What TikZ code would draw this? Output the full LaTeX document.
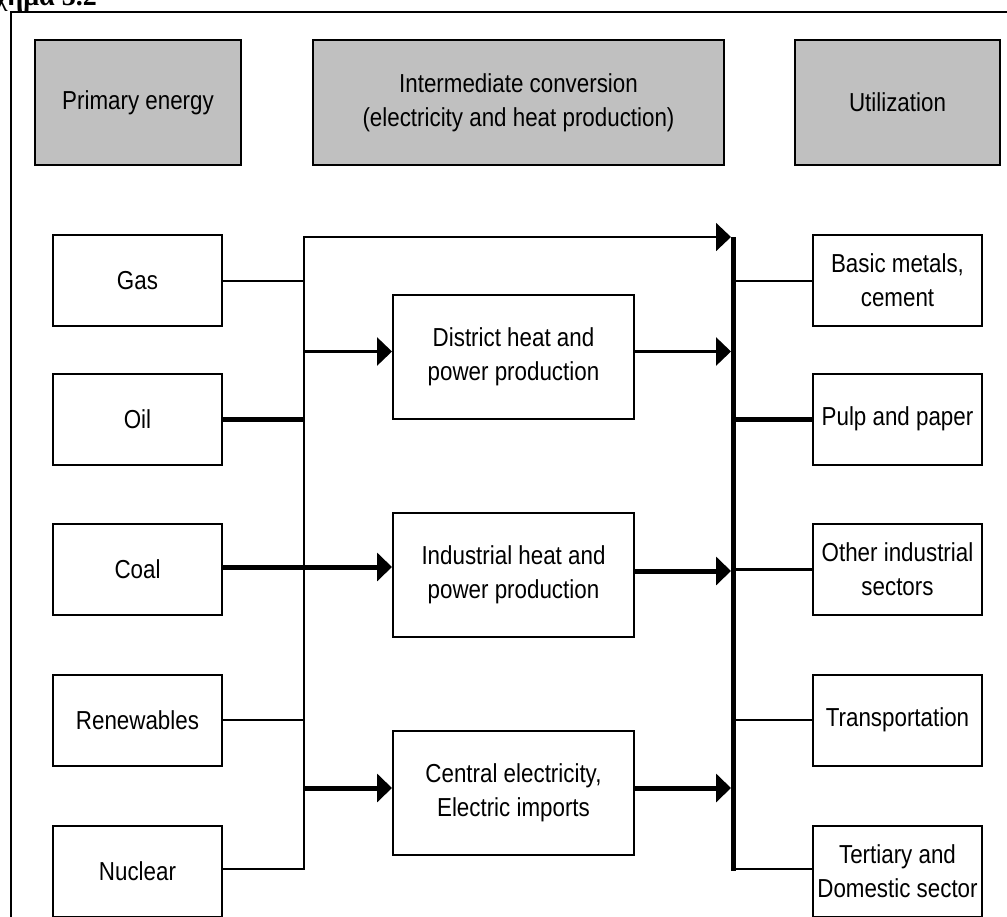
\documentclass[tikz,border=0pt]{standalone}
\usepackage{fontspec}
\setmainfont{Liberation Sans}[FakeStretch=0.86]
\newfontfamily\captionfont{Liberation Serif}
\usetikzlibrary{arrows.meta}
\definecolor{headgray}{RGB}{192,192,192}

\begin{document}
\begin{tikzpicture}[x=1pt,y=-1pt,
  txt/.style={font=\fontsize{26}{34}\selectfont, align=center, inner sep=0pt},
  head/.style={txt, draw=black, fill=headgray, line width=2.5pt, minimum height=125pt},
  leaf/.style={txt, draw=black, fill=white, line width=2pt, minimum width=169pt, minimum height=91pt},
  conv/.style={txt, draw=black, fill=white, line width=2pt, minimum width=241pt, minimum height=124pt},
  flowthin/.style={line width=2pt},
  flowmid/.style={line width=3pt},
  flowthick/.style={line width=5pt},
  tip/.style={-{Triangle[length=15pt,width=28pt]}}
]
\useasboundingbox (0,0) rectangle (1007,916);
\fill[white] (0,0) rectangle (1007,916);

% caption above the frame
\node[anchor=base east, inner sep=0pt, font=\captionfont\bfseries\fontsize{28}{30}\selectfont] (cap) at (97,5) {Σχήμα 3.2};

% outer frame
\draw[line width=2pt] (11,12) rectangle (1040,950);

% column headings
\node[head, minimum width=206pt] (hprim) at (138,102.5) {Primary energy};
\node[head, minimum width=411pt] (hconv) at (518.5,102.5) {Intermediate conversion\\(electricity and heat production)};
\node[head, minimum width=205pt] (hutil) at (897.5,102.5) {Utilization};

% primary energy sources
\node[leaf] (gas) at (137.5,280.5) {Gas};
\node[leaf] (oil) at (137.5,419) {Oil};
\node[leaf] (coal) at (137.5,569) {Coal};
\node[leaf] (ren) at (137.5,720) {Renewables};
\node[leaf] (nuc) at (137.5,871) {Nuclear};

% conversion plants
\node[conv] (dh) at (513.5,356.5) {District heat and\\power production};
\node[conv] (ih) at (513.5,575) {Industrial heat and\\power production};
\node[conv] (ce) at (513.5,793) {Central electricity,\\Electric imports};

% end uses
\node[leaf] (bm) at (897.5,280.5) {Basic metals,\\cement};
\node[leaf] (pp) at (897.5,419) {Pulp and paper};
\node[leaf] (oi) at (897.5,569) {Other industrial\\sectors};
\node[leaf] (tr) at (897.5,720) {Transportation};
\node[leaf] (ts) at (897.5,871) {Tertiary and\\Domestic sector};

% collector lines
\coordinate (lbt) at (304,237);
\coordinate (lbb) at (304,869);
\coordinate (rbt) at (733,237);
\coordinate (rbb) at (733,871);

\draw[flowthin, line cap=rect] (lbt) -- (lbb);
\draw[flowthick] (rbt) -- (rbb);
\draw[flowthin, tip] (lbt) -- ([xshift=-2pt]rbt);

% sources into the left collector
\draw[flowthin] (gas.east) -- (gas.east -| lbt);
\draw[flowthick] (oil.east) -- (oil.east -| lbt);
\draw[flowthick, tip] ([yshift=2pt]coal.east) -- ([yshift=2pt]coal.east -| ih.west);
\draw[flowthin] (ren.east) -- (ren.east -| lbt);
\draw[flowthin] ([yshift=2pt]nuc.east) -- ([yshift=2pt]nuc.east -| lbt);

% left collector into the plants
\draw[flowmid, tip] ([yshift=5pt]dh.west -| lbt) -- ([yshift=5pt]dh.west);
\draw[flowthick, tip] ([yshift=5pt]ce.west -| lbt) -- ([yshift=5pt]ce.west);

% plants into the right collector
\draw[flowmid, tip] ([yshift=5pt]dh.east) -- ([yshift=5pt, xshift=-2pt]dh.east -| rbt);
\draw[flowthick, tip] ([yshift=4pt]ih.east) -- ([yshift=4pt, xshift=-2pt]ih.east -| rbt);
\draw[flowthick, tip] ([yshift=5pt]ce.east) -- ([yshift=5pt, xshift=-2pt]ce.east -| rbt);

% right collector to the end uses
\draw[flowthin] (bm.west -| rbt) -- (bm.west);
\draw[flowthick] (pp.west -| rbt) -- (pp.west);
\draw[flowmid] (oi.west -| rbt) -- (oi.west);
\draw[flowthin] (tr.west -| rbt) -- (tr.west);
\draw[flowthin] ([yshift=2pt]ts.west -| rbt) -- ([yshift=2pt]ts.west);
\end{tikzpicture}
\end{document}
